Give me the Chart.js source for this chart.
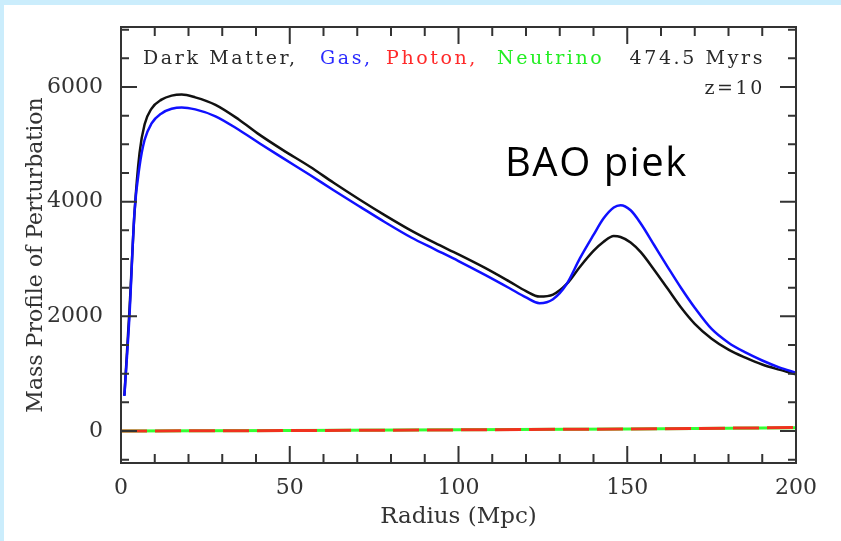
<!DOCTYPE html>
<html>
<head>
<meta charset="utf-8">
<script src="https://cdn.jsdelivr.net/npm/chart.js@4.4.1/dist/chart.umd.min.js"></script>
<style>
  html, body { margin: 0; padding: 0; background: #cbedfc; }
  #area { position: absolute; left: 0; top: 0; width: 841px; height: 541px; }
</style>
</head>
<body>
<div id="area"><canvas id="grafico"></canvas></div>
<script>
// radius (Mpc)
const radius = [1, 2.5, 4, 5.5, 7, 9, 12, 15, 18, 22, 28, 35, 41, 48, 56, 63, 71, 78, 86, 93, 100,
  108, 115, 120, 124, 128, 132, 136, 140, 143, 146, 148, 151, 154, 158, 162, 166, 170, 175, 180, 185, 190, 195, 200]

const darkMatter = [620, 2100, 3800, 4850, 5350, 5620, 5780, 5850, 5870, 5820, 5690, 5430, 5170, 4900, 4610, 4330, 4025, 3770, 3495, 3280, 3080,
  2840, 2610, 2440, 2345, 2380, 2560, 2865, 3140, 3300, 3400, 3385, 3290, 3120, 2810, 2480, 2150, 1870, 1610, 1420, 1280, 1160, 1070, 990]

const gas = [610, 2000, 3820, 4620, 5080, 5360, 5540, 5620, 5645, 5610, 5490, 5250, 5020, 4760, 4465, 4200, 3905, 3650, 3375, 3170, 2965,
  2720, 2495, 2330, 2230, 2300, 2560, 3015, 3420, 3710, 3900, 3940, 3850, 3620, 3240, 2860, 2490, 2150, 1780, 1540, 1370, 1230, 1110, 1015]

const radiusLow = [0, 50, 100, 150, 200]
const photon = [0, 8, 20, 35, 60]
const neutrino = [0, 8, 20, 35, 55]

const xTicks = [0, 50, 100, 150, 200]
const yTicks = [0, 2000, 4000, 6000]

const toPoints = (xs, ys) => xs.map((x, i) => ({ x: x, y: ys[i] }))

// fundo azul claro com painel branco
const fundo = {
  id: 'fundo',
  beforeDraw(chart) {
    const ctx = chart.ctx
    ctx.save()
    ctx.fillStyle = '#cbedfc'
    ctx.fillRect(0, 0, chart.width, chart.height)
    ctx.fillStyle = '#ffffff'
    ctx.fillRect(4, 5, chart.width - 4, chart.height - 5)
    ctx.restore()
  }
}

// moldura e tracinhos para dentro, estilo pgplot
const moldura = {
  id: 'moldura',
  afterDatasetsDraw(chart) {
    const ctx = chart.ctx
    const { left, right, top, bottom } = chart.chartArea
    const sx = chart.scales.x
    const sy = chart.scales.y
    ctx.save()
    ctx.strokeStyle = '#333'
    ctx.lineWidth = 2
    ctx.beginPath()
    for (let v = 0; v <= 200; v += 10) {
      const len = v % 50 == 0 ? 17 : 9
      const px = sx.getPixelForValue(v)
      ctx.moveTo(px, bottom); ctx.lineTo(px, bottom - len)
      ctx.moveTo(px, top); ctx.lineTo(px, top + len)
    }
    for (let v = -500; v <= 7000; v += 500) {
      const len = v % 2000 == 0 ? 16 : 8
      const py = sy.getPixelForValue(v)
      if (py < top || py > bottom) continue
      ctx.moveTo(left, py); ctx.lineTo(left + len, py)
      ctx.moveTo(right, py); ctx.lineTo(right - len, py)
    }
    ctx.stroke()
    ctx.strokeRect(left, top, right - left, bottom - top)
    ctx.restore()
  }
}

const textos = {
  id: 'textos',
  afterDraw(chart) {
    const ctx = chart.ctx
    ctx.save()
    ctx.font = '19px "DejaVu Serif"'
    ctx.letterSpacing = '2.6px'
    ctx.textBaseline = 'alphabetic'
    ctx.textAlign = 'left'
    const partes = [
      ['Dark Matter,', '#2a2a2a', 143],
      ['Gas,', '#2a2aff', 320],
      ['Photon,', '#ff2a2a', 386],
      ['Neutrino', '#22ee22', 497]
    ]
    partes.forEach(p => {
      ctx.fillStyle = p[1]
      ctx.fillText(p[0], p[2], 64)
    })
    ctx.fillStyle = '#2a2a2a'
    ctx.textAlign = 'right'
    ctx.fillText('474.5 Myrs', 765, 64)
    ctx.fillText('z=10', 765, 94)

    // titulo do eixo y
    ctx.letterSpacing = '0px'
    ctx.fillStyle = '#333'
    ctx.font = '22px "DejaVu Serif"'
    ctx.textAlign = 'center'
    ctx.textBaseline = 'middle'
    ctx.translate(36, 255)
    ctx.rotate(-Math.PI / 2)
    ctx.fillText('Mass Profile of Perturbation', 0, 0)
    ctx.setTransform(1, 0, 0, 1, 0, 0)

    ctx.letterSpacing = '1.5px'
    ctx.textAlign = 'left'
    ctx.textBaseline = 'alphabetic'
    ctx.fillStyle = '#000'
    ctx.font = '40px "Open Sans"'
    ctx.fillText('BAO piek', 505, 176)
    ctx.restore()
  }
}

new Chart(document.getElementById('grafico'), {
  type: 'line',
  data: {
    datasets: [
      {
        label: 'Gas',
        data: toPoints(radius, gas),
        borderColor: '#1010ff',
        borderWidth: 2.5,
        pointRadius: 0,
        cubicInterpolationMode: 'monotone'
      },
      {
        label: 'Dark Matter',
        data: toPoints(radius, darkMatter),
        borderColor: '#111111',
        borderWidth: 2.5,
        pointRadius: 0,
        cubicInterpolationMode: 'monotone'
      },
      {
        label: 'Photon',
        data: toPoints(radiusLow, photon),
        borderColor: '#f0321e',
        borderWidth: 3,
        borderDash: [26, 8],
        pointRadius: 0,
        tension: 0
      },
      {
        label: 'Neutrino',
        data: toPoints(radiusLow, neutrino),
        borderColor: '#33ff33',
        borderWidth: 3,
        pointRadius: 0,
        tension: 0
      }
    ]
  },
  options: {
    responsive: true,
    maintainAspectRatio: false,
    animation: false,
    layout: { padding: { left: 0, right: 45, top: 27, bottom: 0 } },
    plugins: {
      legend: { display: false },
      tooltip: { enabled: false }
    },
    scales: {
      x: {
        type: 'linear',
        min: 0,
        max: 200,
        grid: { display: false },
        border: { display: false },
        afterBuildTicks: s => { s.ticks = xTicks.map(v => ({ value: v })) },
        afterFit: s => { s.height = 78 },
        ticks: {
          color: '#333',
          padding: 4,
          callback: v => String(v),
          font: { family: 'DejaVu Serif', size: 22 }
        },
        title: {
          display: true,
          text: 'Radius (Mpc)',
          color: '#333',
          padding: { top: 0, bottom: 10 },
          font: { family: 'DejaVu Serif', size: 23 }
        }
      },
      y: {
        min: -558,
        max: 7047,
        grid: { display: false },
        border: { display: false },
        afterBuildTicks: s => { s.ticks = yTicks.map(v => ({ value: v })) },
        afterFit: s => { s.width = 121 },
        ticks: {
          color: '#333',
          padding: 10,
          callback: v => String(v),
          font: { family: 'DejaVu Serif', size: 22 }
        },
        title: { display: false }
      }
    }
  },
  plugins: [fundo, moldura, textos]
})
</script>
</body>
</html>
